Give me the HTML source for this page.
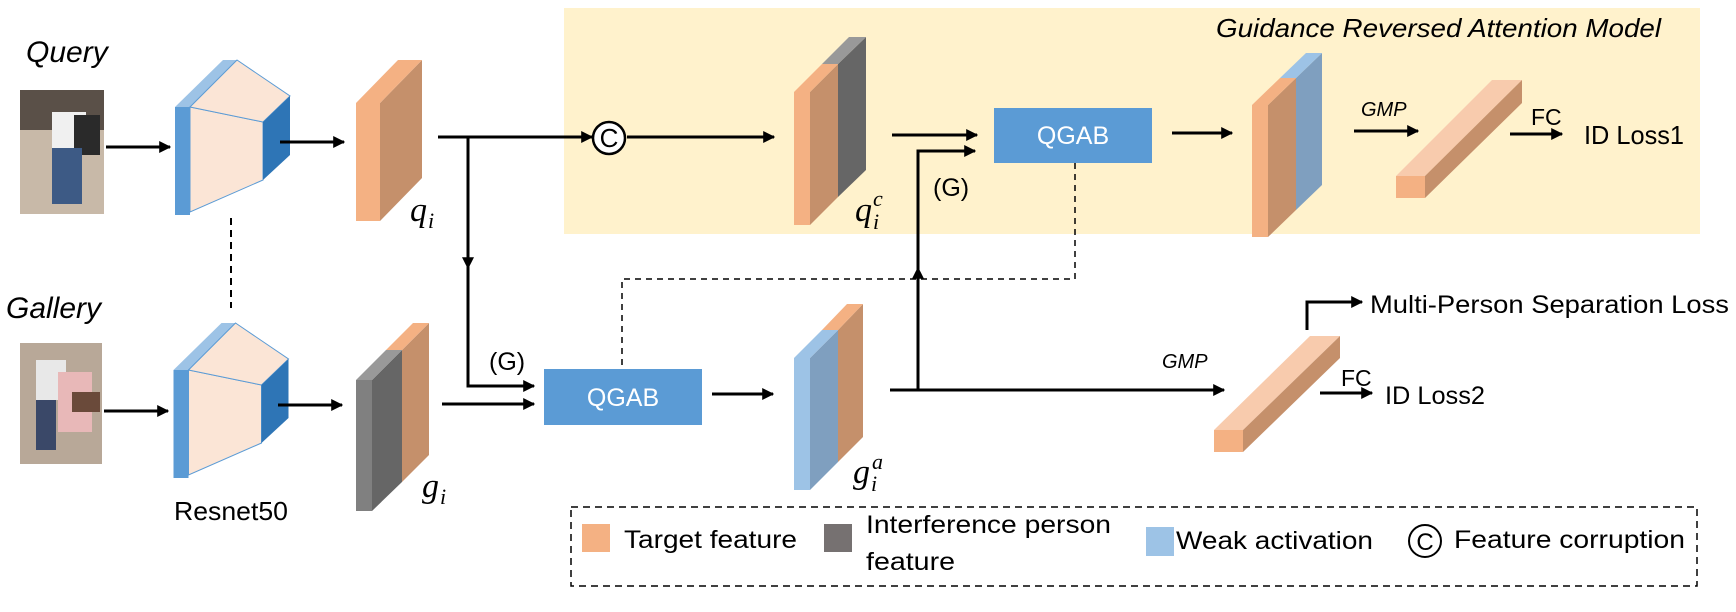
<!DOCTYPE html>
<html><head><meta charset="utf-8"><style>
html,body{margin:0;padding:0;background:#fff}
svg{display:block}
text{font-family:"Liberation Sans","DejaVu Sans",sans-serif;fill:#000}
.it{font-style:italic}
.m{font-family:"Liberation Serif",serif;font-style:italic}
</style></head><body>
<svg width="1736" height="612" viewBox="0 0 1736 612" xmlns="http://www.w3.org/2000/svg">
<defs>
<marker id="a" viewBox="0 0 10 10" refX="9" refY="5" markerWidth="4" markerHeight="4" orient="auto"><path d="M0,0L10,5L0,10z" fill="#000"/></marker>
</defs>
<rect x="564" y="8" width="1136" height="226" fill="#fff2cc"/>
<text x="1216" y="37" font-size="26" class="it" textLength="445" lengthAdjust="spacingAndGlyphs">Guidance Reversed Attention Model</text>

<!-- labels -->
<text x="26" y="62" font-size="30" class="it">Query</text>
<text x="6" y="318" font-size="30" class="it">Gallery</text>
<text x="174" y="520" font-size="26" textLength="114" lengthAdjust="spacingAndGlyphs">Resnet50</text>

<!-- photos -->
<rect x="20" y="90" width="84" height="124" fill="#c8b9a8"/>
<rect x="20" y="90" width="84" height="40" fill="#5a5048"/>
<rect x="52" y="112" width="34" height="36" fill="#f0f0f0"/>
<rect x="74" y="115" width="26" height="40" fill="#2a2a2a"/>
<rect x="52" y="148" width="30" height="56" fill="#3d5a85"/>
<rect x="20" y="343" width="82" height="121" fill="#b8a898"/>
<rect x="36" y="360" width="30" height="40" fill="#e8e8e8"/>
<rect x="58" y="372" width="34" height="60" fill="#e8b8b8"/>
<rect x="72" y="392" width="28" height="20" fill="#6a4a3a"/>
<rect x="36" y="400" width="20" height="50" fill="#3a4868"/>

<!-- resnet blocks -->
<g id="rn">
<polygon points="175,107 223,60 237,60 190,107" fill="#9dc3e6"/>
<rect x="175" y="107" width="15" height="108" fill="#5b9bd5"/>
<polygon points="190,107 263,122 263,180 190,212" fill="#fbe5d6" stroke="#5b9bd5" stroke-width="1"/>
<polygon points="190,107 237,60 290,96 263,122" fill="#fbe5d6" stroke="#5b9bd5" stroke-width="1"/>
<polygon points="263,122 290,96 290,155 263,180" fill="#2e75b6"/>
</g>
<use href="#rn" transform="translate(-1.5,263)"/>
<line x1="231" y1="218" x2="231" y2="308" stroke="#000" stroke-width="2" stroke-dasharray="7,5"/>

<g stroke="#000" stroke-width="3" fill="none" marker-end="url(#a)">
<line x1="106" y1="147" x2="170" y2="147"/>
<line x1="104" y1="411" x2="168" y2="411"/>
<line x1="280" y1="142" x2="344" y2="142"/>
<line x1="278" y1="405" x2="342" y2="405"/>
<line x1="438" y1="137" x2="592" y2="137"/>
<line x1="468" y1="137" x2="468" y2="268"/>
<polyline points="468,262 468,386 534,386"/>
<line x1="442" y1="404" x2="534" y2="404"/>
<line x1="627" y1="137" x2="774" y2="137"/>
<line x1="892" y1="135" x2="977" y2="135"/>
<line x1="918" y1="390" x2="918" y2="268"/>
<polyline points="918,272 918,151 975,151"/>
<line x1="712" y1="394" x2="773" y2="394"/>
<line x1="1172" y1="133" x2="1232" y2="133"/>
<line x1="1354" y1="131" x2="1418" y2="131"/>
<line x1="1510" y1="134" x2="1562" y2="134"/>
<line x1="890" y1="390" x2="1224" y2="390"/>
<polyline points="1307,330 1307,302 1362,302"/>
<line x1="1320" y1="393" x2="1372" y2="393"/>
</g>

<!-- C circle -->
<circle cx="609" cy="138" r="16" fill="#fff" stroke="#000" stroke-width="2.5"/>
<text x="609" y="147" font-size="26" text-anchor="middle">C</text>

<!-- qi -->
<rect x="356" y="103" width="24" height="118" fill="#f4b183"/>
<polygon points="380,103 422,60 422,178 380,221" fill="#c5906b"/>
<polygon points="356,103 398,60 422,60 380,103" fill="#f4b183"/>
<text x="410" y="221" font-size="34" class="m">q</text><text x="428" y="228" font-size="22" class="m">i</text>

<!-- gi -->
<polygon points="402,350 429,323 429,455 402,482" fill="#c5906b"/>
<polygon points="386,350 413,323 429,323 402,350" fill="#f4b183"/>
<rect x="356" y="380" width="16" height="131" fill="#808080"/>
<polygon points="372,380 402,350 402,482 372,511" fill="#666"/>
<polygon points="356,380 386,350 402,350 372,380" fill="#999"/>
<text x="422" y="497" font-size="34" class="m">g</text><text x="440" y="504" font-size="22" class="m">i</text>

<!-- qic -->
<polygon points="838,64 866,37 866,170 838,197" fill="#666"/>
<polygon points="822,64 849,37 866,37 838,64" fill="#999"/>
<rect x="794" y="92" width="16" height="133" fill="#f4b183"/>
<polygon points="810,92 838,64 838,197 810,225" fill="#c5906b"/>
<polygon points="794,92 822,64 838,64 810,92" fill="#f4b183"/>
<text x="855" y="221" font-size="34" class="m">q</text><text x="873" y="229" font-size="22" class="m">i</text><text x="873" y="206" font-size="22" class="m">c</text>

<!-- gia -->
<polygon points="838,330 863,304 863,437 838,462" fill="#c5906b"/>
<polygon points="822,330 847,304 863,304 838,330" fill="#f4b183"/>
<rect x="794" y="358" width="16" height="132" fill="#9dc3e6"/>
<polygon points="810,358 838,330 838,462 810,490" fill="#7f9fbf"/>
<polygon points="794,358 822,330 838,330 810,358" fill="#9dc3e6"/>
<text x="853" y="483" font-size="34" class="m">g</text><text x="871" y="491" font-size="22" class="m">i</text><text x="872" y="469" font-size="22" class="m">a</text>

<!-- output block -->
<polygon points="1296,78 1322,53 1322,185 1296,210" fill="#7f9fbf"/>
<polygon points="1280,78 1306,53 1322,53 1296,78" fill="#9dc3e6"/>
<rect x="1252" y="105" width="16" height="132" fill="#f4b183"/>
<polygon points="1268,105 1296,78 1296,210 1268,237" fill="#c5906b"/>
<polygon points="1252,105 1280,78 1296,78 1268,105" fill="#f4b183"/>

<!-- bars -->
<polygon points="1396,176 1492,80 1522,80 1425,176" fill="#f8cbad"/>
<polygon points="1425,176 1522,80 1522,103 1425,198" fill="#c5906b"/>
<rect x="1396" y="176" width="29" height="22" fill="#f4b183"/>
<polygon points="1214,430 1310,336 1340,336 1243,430" fill="#f8cbad"/>
<polygon points="1243,430 1340,336 1340,358 1243,452" fill="#c5906b"/>
<rect x="1214" y="430" width="29" height="22" fill="#f4b183"/>

<!-- QGAB -->
<rect x="994" y="108" width="158" height="55" fill="#5b9bd5"/>
<text x="1073" y="144" font-size="25" style="fill:#fff" text-anchor="middle">QGAB</text>
<rect x="544" y="369" width="158" height="56" fill="#5b9bd5"/>
<text x="623" y="406" font-size="25" style="fill:#fff" text-anchor="middle">QGAB</text>
<polyline points="1075,163 1075,279 622,279 622,369" fill="none" stroke="#000" stroke-width="1.5" stroke-dasharray="6,5"/>

<text x="489" y="370" font-size="25">(G)</text>
<text x="933" y="196" font-size="25">(G)</text>
<text x="1361" y="116" font-size="20" class="it">GMP</text>
<text x="1531" y="125" font-size="23">FC</text>
<text x="1584" y="144" font-size="26" textLength="100" lengthAdjust="spacingAndGlyphs">ID Loss1</text>
<text x="1162" y="368" font-size="20" class="it">GMP</text>
<text x="1341" y="386" font-size="23">FC</text>
<text x="1385" y="404" font-size="25" textLength="100" lengthAdjust="spacingAndGlyphs">ID Loss2</text>
<text x="1370" y="313" font-size="25" textLength="359" lengthAdjust="spacingAndGlyphs">Multi-Person Separation Loss</text>

<!-- legend -->
<rect x="571" y="507" width="1126" height="79" fill="none" stroke="#000" stroke-width="1.5" stroke-dasharray="7,5"/>
<rect x="582" y="524" width="28" height="28" fill="#f4b183"/>
<text x="624" y="548" font-size="25" textLength="173" lengthAdjust="spacingAndGlyphs">Target feature</text>
<rect x="824" y="524" width="28" height="28" fill="#767171"/>
<text x="866" y="533" font-size="25" textLength="245" lengthAdjust="spacingAndGlyphs">Interference person</text>
<text x="866" y="570" font-size="25" textLength="89" lengthAdjust="spacingAndGlyphs">feature</text>
<rect x="1146" y="527" width="28" height="29" fill="#9dc3e6"/>
<text x="1176" y="549" font-size="25" textLength="197" lengthAdjust="spacingAndGlyphs">Weak activation</text>
<circle cx="1425" cy="541" r="16" fill="#fff" stroke="#000" stroke-width="2"/>
<text x="1425" y="550" font-size="24" text-anchor="middle">C</text>
<text x="1454" y="548" font-size="25" textLength="231" lengthAdjust="spacingAndGlyphs">Feature corruption</text>
</svg>
</body></html>
